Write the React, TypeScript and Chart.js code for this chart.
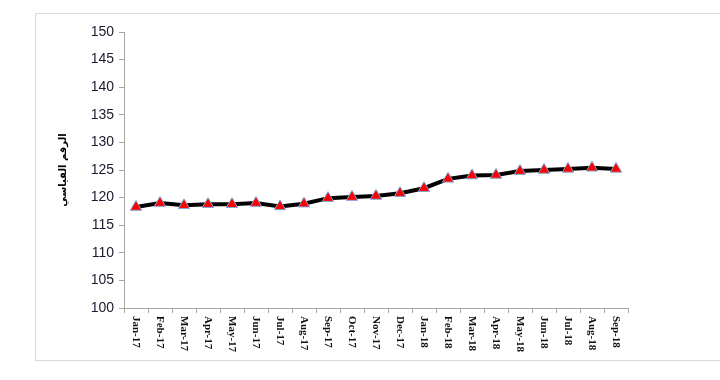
import React, { useEffect, useRef } from "react";
import { Chart, registerables } from "chart.js";

Chart.register(...registerables);

const categories = [
  "Jan-17", "Feb-17", "Mar-17", "Apr-17", "May-17", "Jun-17", "Jul-17",
  "Aug-17", "Sep-17", "Oct-17", "Nov-17", "Dec-17", "Jan-18", "Feb-18",
  "Mar-18", "Apr-18", "May-18", "Jun-18", "Jul-18", "Aug-18", "Sep-18",
];
const indexValues = [
  118.3, 119.0, 118.6, 118.8, 118.8, 119.0, 118.4,
  118.9, 119.9, 120.1, 120.3, 120.8, 121.7, 123.4,
  124.0, 124.1, 124.8, 125.0, 125.2, 125.4, 125.2,
];
const yTitle = "الرقم القياسي";
const yMin = 100;
const yMax = 150;
const yStep = 5;

const verticalLabels = {
  id: "verticalLabels",
  afterDraw(chart: any) {
    const scale = chart.scales.x;
    const ctx = chart.ctx;
    ctx.save();
    ctx.font = "bold 11px 'Liberation Serif', 'Times New Roman', serif";
    ctx.fillStyle = "#111";
    ctx.textAlign = "left";
    ctx.textBaseline = "middle";
    const top = scale.top + 8;
    categories.forEach((label, i) => {
      const x = scale.getPixelForTick(i);
      ctx.save();
      ctx.translate(x, top);
      ctx.rotate(Math.PI / 2);
      ctx.fillText(label, 0, 0);
      ctx.restore();
    });
    ctx.restore();
  },
};

export default function App() {
  const ref = useRef<HTMLCanvasElement>(null);
  useEffect(() => {
    if (!ref.current) return;
    const chart = new Chart(ref.current, {
      type: "line",
      data: {
        labels: categories,
        datasets: [
          {
            data: indexValues,
            borderColor: "#000000",
            borderWidth: 4,
            pointStyle: "triangle",
            pointRadius: 6.5,
            pointBackgroundColor: "#ff0000",
            pointBorderColor: "#7ea6d8",
            pointBorderWidth: 1,
            tension: 0,
          },
        ],
      },
      options: {
        animation: false,
        responsive: false,
        layout: { padding: { left: 53, top: 32, right: 92, bottom: 0 } },
        plugins: { legend: { display: false }, tooltip: { enabled: false } },
        scales: {
          x: {
            offset: true,
            grid: {
              offset: true,
              drawOnChartArea: false,
              drawTicks: true,
              tickLength: 5,
              color: "#a6a6a6",
            },
            border: { color: "#a6a6a6", width: 1 },
            ticks: { display: false },
            afterFit(scale: any) {
              scale.height = 72;
            },
          },
          y: {
            min: yMin,
            max: yMax,
            grid: {
              drawOnChartArea: false,
              drawTicks: true,
              tickLength: 5,
              color: "#a6a6a6",
            },
            border: { color: "#a6a6a6", width: 1 },
            ticks: {
              stepSize: yStep,
              padding: 5,
              color: "#1a1a2e",
              font: { family: "'Liberation Sans', Arial, sans-serif", size: 14 },
            },
            title: {
              display: true,
              text: yTitle,
              color: "#000",
              padding: { top: 4, bottom: 4 },
              font: { family: "'DejaVu Sans', 'Noto Sans', sans-serif", size: 10, weight: "bold" },
            },
            afterFit(scale: any) {
              scale.width = 71;
            },
          },
        },
      },
      plugins: [verticalLabels],
    });
    return () => chart.destroy();
  }, []);
  return (
    <div style={{ position: "fixed", left: 0, top: 0, width: 720, height: 380, background: "#fff" }}>
      <div
        style={{
          position: "absolute",
          left: 35,
          top: 13,
          width: 700,
          height: 348,
          border: "1px solid #d9d9d9",
          boxSizing: "border-box",
        }}
      />
      <canvas ref={ref} width={720} height={380} style={{ position: "absolute", left: 0, top: 0 }} />
    </div>
  );
}
